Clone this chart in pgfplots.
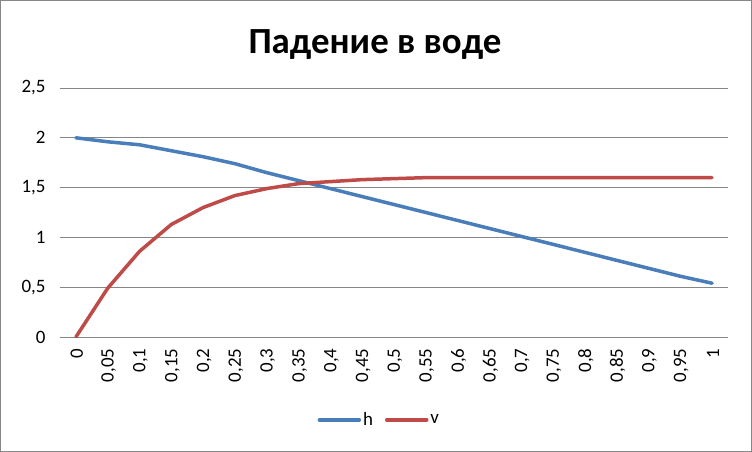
\documentclass[border=0pt]{standalone}
\usepackage{fontspec}
\setmainfont{Carlito}
\usepackage{pgfplots}
\usepackage{pgfplotstable}
\pgfplotsset{compat=1.18}

\definecolor{hblue}{HTML}{4A7EBB}
\definecolor{vred}{HTML}{BE4B48}
\definecolor{gridgray}{HTML}{868686}

\pgfplotstableread{
t     h     v
0     2.00  0.00
0.05  1.96  0.49
0.1   1.93  0.86
0.15  1.87  1.13
0.2   1.81  1.30
0.25  1.74  1.42
0.3   1.65  1.49
0.35  1.57  1.54
0.4   1.49  1.56
0.45  1.41  1.58
0.5   1.33  1.59
0.55  1.25  1.60
0.6   1.17  1.60
0.65  1.09  1.60
0.7   1.01  1.60
0.75  0.93  1.60
0.8   0.85  1.60
0.85  0.77  1.60
0.9   0.69  1.60
0.95  0.61  1.60
1     0.54  1.60
}\fall

\begin{document}
\begin{tikzpicture}
% chart frame
\draw[gridgray, line width=1.5bp] (-59.25bp,-114.25bp) rectangle (691.25bp,336.25bp);
\node[font=\fontsize{37}{40}\selectfont\bfseries] at (315bp,292bp) {Падение в воде};
\begin{axis}[
    at={(0,0)}, anchor=south west,
    scale only axis,
    width=668bp, height=249bp,
    xmin=-0.5, xmax=20.5,
    ymin=0, ymax=2.5,
    ytick={0,0.5,...,2.5},
    xtick={0,...,20},
    xticklabels={0,{0,05},{0,1},{0,15},{0,2},{0,25},{0,3},{0,35},{0,4},{0,45},{0,5},{0,55},{0,6},{0,65},{0,7},{0,75},{0,8},{0,85},{0,9},{0,95},1},
    /pgf/number format/use comma,
    /pgf/number format/assume math mode=true,
    yticklabel style={font=\fontsize{19}{22}\selectfont, xshift=-11bp},
    % rotated frame: xshift moves down the page, yshift moves right
    xticklabel style={font=\fontsize{19}{22}\selectfont, rotate=90, anchor=east, xshift=-8bp, yshift=-1bp},
    axis line style={draw=none},
    axis x line*=bottom,
    x axis line style={draw=gridgray, line width=1bp},
    major tick length=0pt,
    ymajorgrids,
    grid style={gridgray, line width=1bp},
    legend style={
        at={(0.478,-0.333)}, anchor=center,
        draw=none, fill=none,
        legend columns=2,
        font=\fontsize{19}{22}\selectfont,
        /tikz/every even column/.append style={column sep=10bp},
    },
    legend image code/.code={\draw[#1, line cap=round] (0bp,0bp) -- (40bp,0bp);},
]
\addplot[hblue, line width=3.5bp, line cap=round, line join=round] table[x expr=\coordindex, y=h] {\fall};
\addplot[vred, line width=3.5bp, line cap=round, line join=round] table[x expr=\coordindex, y=v] {\fall};
\legend{h,v}
\end{axis}
\end{tikzpicture}
\end{document}
